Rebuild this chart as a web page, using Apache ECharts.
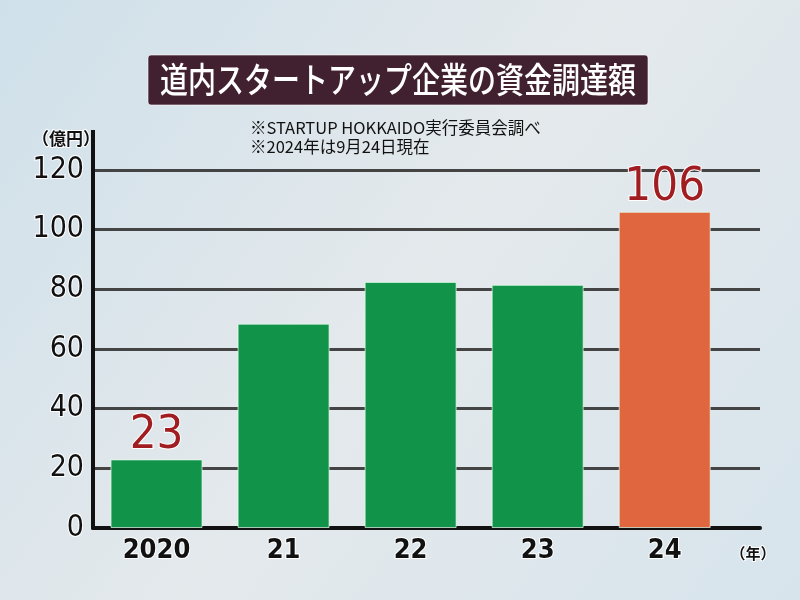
<!DOCTYPE html>
<html><head><meta charset="utf-8">
<script src="https://cdn.jsdelivr.net/npm/echarts@6/dist/echarts.min.js"></script>
<style>html,body{margin:0;padding:0;}#c{width:800px;height:600px;}</style>
</head><body><div id="c"></div>
<script>
const categories = ['2020', '21', '22', '23', '24'];
const values = [23, 68.5, 82.5, 81.5, 106];
const labeledIdx = [0, 4];
const yTicks = [0, 20, 40, 60, 80, 100, 120];
const titleText = '道内スタートアップ企業の資金調達額';
const note1 = '※STARTUP HOKKAIDO実行委員会調べ';
const note2 = '※2024年は9月24日現在';
const yUnit = '（億円）';
const xUnit = '（年）';

const numFont = '"DejaVu Sans Condensed","Liberation Sans",Arial,sans-serif';
const jpFont = '"Noto Sans CJK JP",sans-serif';

const chart = echarts.init(document.getElementById('c'));
const data = values.map((v, i) => ({
  value: [i, v],
  itemStyle: { color: i === 4 ? '#e0663f' : '#12934a' },
  label: { show: labeledIdx.includes(i) }
}));

chart.setOption({
  backgroundColor: new echarts.graphic.LinearGradient(0, 0, 1, 1, [
    { offset: 0, color: '#cfe0ea' },
    { offset: 0.5, color: '#e4e9ec' },
    { offset: 1, color: '#d7e4ec' }
  ]),
  animation: false,
  grid: { left: 93, right: 40, top: 170, bottom: 72 },
  xAxis: {
    type: 'value', min: -0.5, max: 4.75,
    axisLine: { show: true, onZero: false, lineStyle: { color: '#111', width: 4 } },
    axisTick: { show: false },
    splitLine: { show: false },
    axisLabel: {
      customValues: categories.map((c, i) => i),
      formatter: v => categories[Math.round(v)] || '',
      fontFamily: numFont, fontSize: 27, fontWeight: 'bold', color: '#111',
      textBorderColor: '#fff', textBorderWidth: 2, margin: 9
    }
  },
  yAxis: {
    type: 'value', min: 0, max: 120, interval: 20,
    axisLine: { show: true, onZero: false, lineStyle: { color: '#111', width: 4 } },
    axisTick: { show: false },
    splitLine: { show: true, lineStyle: { color: '#444', width: 3 } },
    axisLabel: {
      fontFamily: numFont, fontSize: 30, color: '#111',
      textBorderColor: '#fff', textBorderWidth: 2, margin: 9
    }
  },
  series: [{
    type: 'bar', data: data, barWidth: 92,
    itemStyle: { borderColor: 'rgba(230,255,235,0.7)', borderWidth: 1 },
    label: {
      position: 'top', distance: 0,
      formatter: p => String(p.value[1]),
      fontFamily: numFont, fontSize: 47, color: '#a01d22',
      textBorderColor: '#fff', textBorderWidth: 2
    }
  }],
  graphic: [
    { type: 'rect', shape: { x: 148, y: 55, width: 500, height: 50, r: 3 },
      style: { fill: '#41202f', stroke: 'rgba(255,255,255,0.6)', lineWidth: 1 } },
    { type: 'text', x: 398, y: 80, scaleY: 1.25, style: { text: titleText, fill: '#fff', font: '500 28px "Noto Sans CJK JP"', align: 'center', verticalAlign: 'middle' } },
    { type: 'text', x: 250, y: 128, style: { text: note1, fill: '#111', font: '16.5px "Noto Sans CJK JP"', verticalAlign: 'middle' } },
    { type: 'text', x: 250, y: 147, style: { text: note2, fill: '#111', font: '16.5px "Noto Sans CJK JP"', verticalAlign: 'middle' } },
    { type: 'text', x: 66, y: 139, style: { text: yUnit, fill: '#111', font: 'bold 17px "Noto Sans CJK JP"', align: 'center', verticalAlign: 'middle', stroke: '#fff', lineWidth: 2 } },
    { type: 'text', x: 753, y: 553, style: { text: xUnit, fill: '#111', font: 'bold 15px "Noto Sans CJK JP"', align: 'center', verticalAlign: 'middle', stroke: '#fff', lineWidth: 2 } },
    { type: 'line', shape: { x1: 93, y1: 130, x2: 93, y2: 171 }, style: { stroke: '#111', lineWidth: 4 } }
  ]
});
</script></body></html>
